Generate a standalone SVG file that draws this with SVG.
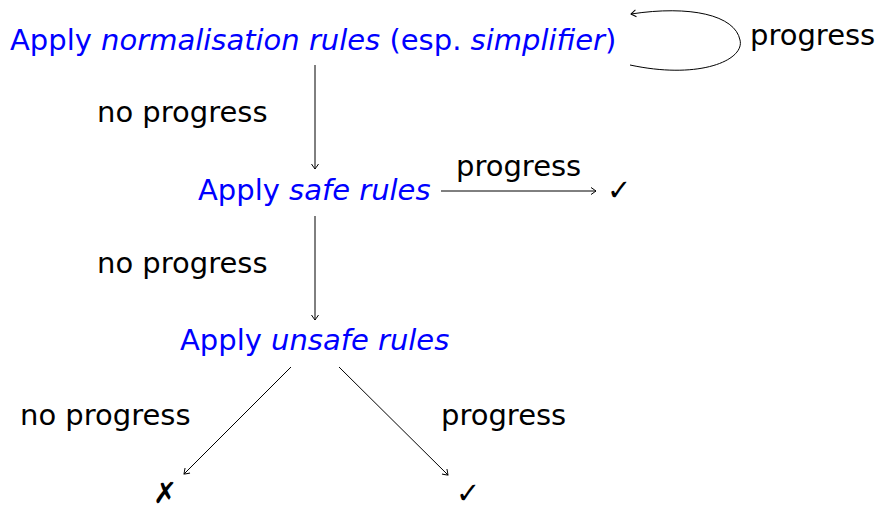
<svg xmlns="http://www.w3.org/2000/svg" width="878" height="505" viewBox="0 0 878 505">
<style>
text{font-family:"DejaVu Sans",sans-serif;font-size:29px;fill:#000}
.b{fill:#0000ff}
.e{stroke:#000;stroke-width:1;fill:none}
</style>
<defs>
<marker id="ah" viewBox="-6 -5 8 10" markerWidth="8" markerHeight="10" refX="0" refY="0" orient="auto" markerUnits="userSpaceOnUse">
<path d="M-5,-3.5 Q-1,-0.8 0,0 Q-1,0.8 -5,3.5" fill="none" stroke="#000" stroke-width="1"/>
</marker>
</defs>
<g id="n1"><text class="b" x="10" y="50">Apply <tspan font-style="italic">normalisation rules</tspan> (esp. <tspan font-style="italic">simplifier</tspan>)</text></g>
<g id="n2"><text class="b" x="198" y="200">Apply <tspan font-style="italic">safe rules</tspan></text></g>
<g id="n3"><text class="b" x="180" y="350">Apply <tspan font-style="italic">unsafe rules</tspan></text></g>
<g id="ok1"><text x="607" y="200">✓</text></g>
<g id="fail"><text x="153" y="503">✗</text></g>
<g id="ok2"><text x="456" y="503">✓</text></g>
<g id="connectors">
<path class="e" d="M630,65 C700,80 745,60 740,40 C735,15 690,5 631,14" marker-end="url(#ah)"/>
<path class="e" d="M315,65 L315,169" marker-end="url(#ah)"/>
<path class="e" d="M441,191 L596,191" marker-end="url(#ah)"/>
<path class="e" d="M315,216 L315,320" marker-end="url(#ah)"/>
<path class="e" d="M291,367 L184,474" marker-end="url(#ah)"/>
<path class="e" d="M339,367 L448,475" marker-end="url(#ah)"/>
</g>
<g id="labels">
<text x="750" y="45">progress</text>
<text x="97" y="122">no progress</text>
<text x="456" y="176">progress</text>
<text x="97" y="273">no progress</text>
<text x="20" y="425">no progress</text>
<text x="441" y="425">progress</text>
</g>
</svg>
